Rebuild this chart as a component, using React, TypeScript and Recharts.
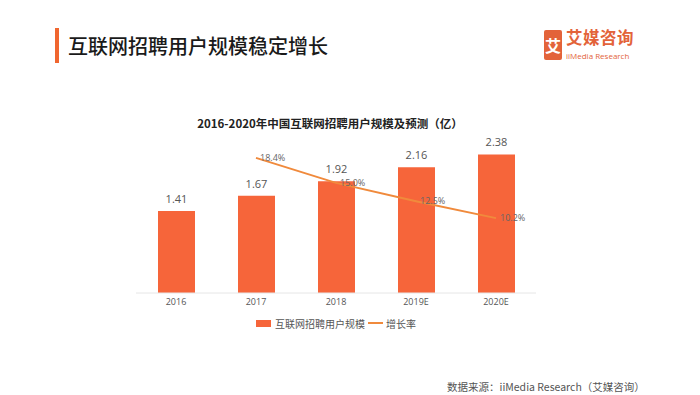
import { ComposedChart, Bar, Line, XAxis, YAxis, Legend, LabelList } from 'recharts';

const years = ['2016', '2017', '2018', '2019E', '2020E'];
const users = [1.41, 1.67, 1.92, 2.16, 2.38];
const growth: (number | null)[] = [null, 18.4, 15.0, 12.5, 10.2];

const data = years.map((year, i) => ({ year, users: users[i], growth: growth[i] }));

const CN = '"Noto Sans CJK SC", "Noto Sans", sans-serif';
const BAR = '#F6653A';
const LINE = '#F08A3C';

function LegendBox() {
  return (
    <div style={{ display: 'flex', justifyContent: 'center', alignItems: 'center', height: 20, fontSize: 10, color: '#555', fontFamily: CN }}>
      <span style={{ width: 15, height: 7, background: BAR, display: 'inline-block', marginRight: 4 }} />
      <span style={{ marginRight: 3 }}>互联网招聘用户规模</span>
      <span style={{ width: 15, height: 2, background: LINE, display: 'inline-block', marginRight: 3 }} />
      <span>增长率</span>
    </div>
  );
}

export default function App() {
  return (
    <div style={{ position: 'absolute', left: 0, top: 0, width: 700, height: 395, background: '#fff', fontFamily: CN }}>
      <div style={{ position: 'absolute', left: 55, top: 28, width: 4, height: 35, background: '#F0662F' }} />
      <div style={{ position: 'absolute', left: 68, top: 31, fontSize: 20, fontWeight: 500, color: '#1a1a1a', whiteSpace: 'nowrap' }}>
        互联网招聘用户规模稳定增长
      </div>

      {/* logo */}
      <div style={{ position: 'absolute', left: 544, top: 30, width: 18, height: 30, background: '#E3633A', color: '#fff', fontSize: 16, fontWeight: 700, textAlign: 'center', lineHeight: '30px', borderRadius: 2 }}>
        艾
      </div>
      <div style={{ position: 'absolute', left: 566, top: 29, fontSize: 16.5, lineHeight: '17px', fontWeight: 700, color: '#E3633A', whiteSpace: 'nowrap', letterSpacing: 0.5 }}>
        艾媒咨询
      </div>
      <div style={{ position: 'absolute', left: 566, top: 51, fontSize: 8, lineHeight: '9px', color: '#E3633A', whiteSpace: 'nowrap', fontFamily: '"Open Sans", sans-serif' }}>
        iiMedia Research
      </div>

      <div style={{ position: 'absolute', left: 0, width: 660, top: 115, textAlign: 'center', fontSize: 11.5, fontWeight: 700, color: '#222', whiteSpace: 'nowrap' }}>
        2016-2020年中国互联网招聘用户规模及预测（亿）
      </div>

      <div style={{ position: 'absolute', left: 0, top: 0 }}>
        <ComposedChart width={700} height={395} data={data} margin={{ top: 130, right: 164, left: 136, bottom: 62 }}>
          <XAxis
            dataKey="year"
            height={20}
            tickLine={false}
            tickSize={4}
            axisLine={{ stroke: '#E6E6E6' }}
            tick={{ fill: '#555', fontSize: 9, fontFamily: '"Open Sans", sans-serif' }}
          />
          <YAxis yAxisId="left" hide domain={[0, 2.8]} />
          <YAxis yAxisId="right" orientation="right" hide domain={[0, 22.2]} />
          <Legend verticalAlign="bottom" content={() => <LegendBox />} />
          <Bar yAxisId="left" dataKey="users" fill={BAR} barSize={37} isAnimationActive={false}>
            <LabelList dataKey="users" position="top" offset={8} fill="#555" fontSize={11} fontFamily='"Open Sans", sans-serif' />
          </Bar>
          <Line
            yAxisId="right"
            dataKey="growth"
            stroke={LINE}
            strokeWidth={2}
            dot={false}
            activeDot={false}
            isAnimationActive={false}
          >
            <LabelList
              dataKey="growth"
              position="right"
              offset={4}
              fill="#666"
              fontSize={9}
              fontFamily='"Open Sans", sans-serif'
              formatter={(v: any) => (v == null ? '' : `${Number(v).toFixed(1)}%`)}
            />
          </Line>
        </ComposedChart>
      </div>

      <div style={{ position: 'absolute', left: 447, top: 379, fontSize: 10.5, color: '#555', whiteSpace: 'nowrap' }}>
        数据来源：iiMedia Research（艾媒咨询）
      </div>
    </div>
  );
}
